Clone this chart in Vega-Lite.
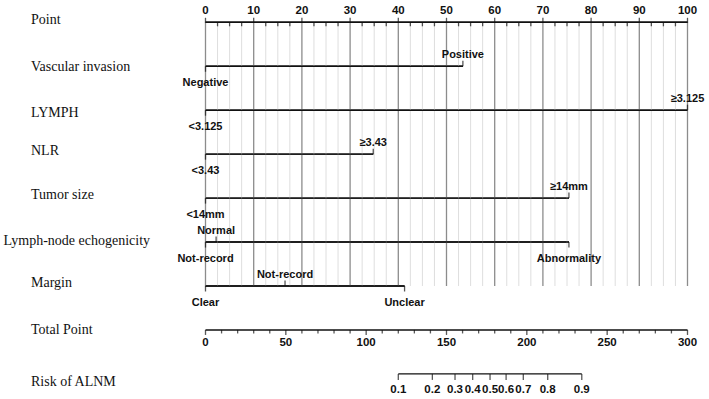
{
  "$schema": "https://vega.github.io/schema/vega-lite/v6.json",
  "width": 482,
  "height": 351.6,
  "autosize": {"type": "none"},
  "padding": {"left": 205.5, "top": 22.3, "right": 21.5, "bottom": 25.1},
  "background": "white",
  "config": {
    "view": {"stroke": null},
    "text": {"font": "Liberation Sans", "fontWeight": "bold", "fontSize": 11, "color": "#111111"},
    "tick": {"color": "#111111", "thickness": 1.3},
    "rule": {"color": "#111111", "strokeWidth": 1.4},
    "axisY": {
      "title": null,
      "domain": false,
      "ticks": false,
      "tickSize": 0,
      "labelAlign": "left",
      "labelBaseline": "middle",
      "labelFont": "Liberation Serif",
      "labelFontSize": 14,
      "labelFontWeight": "normal",
      "labelColor": "#111111",
      "labelLimit": 300,
      "labelOverlap": false
    }
  },
  "datasets": {
    "pointGrid": [
      {"pts": 0}, {"pts": 2.5}, {"pts": 5}, {"pts": 7.5}, {"pts": 10}, {"pts": 12.5}, {"pts": 15}, {"pts": 17.5},
      {"pts": 20}, {"pts": 22.5}, {"pts": 25}, {"pts": 27.5}, {"pts": 30}, {"pts": 32.5}, {"pts": 35}, {"pts": 37.5},
      {"pts": 40}, {"pts": 42.5}, {"pts": 45}, {"pts": 47.5}, {"pts": 50}, {"pts": 52.5}, {"pts": 55}, {"pts": 57.5},
      {"pts": 60}, {"pts": 62.5}, {"pts": 65}, {"pts": 67.5}, {"pts": 70}, {"pts": 72.5}, {"pts": 75}, {"pts": 77.5},
      {"pts": 80}, {"pts": 82.5}, {"pts": 85}, {"pts": 87.5}, {"pts": 90}, {"pts": 92.5}, {"pts": 95}, {"pts": 97.5},
      {"pts": 100}
    ],
    "segments": [
      {"row": "Point", "lo": 0, "hi": 100},
      {"row": "Vascular invasion", "lo": 0, "hi": 53.4},
      {"row": "LYMPH", "lo": 0, "hi": 100},
      {"row": "NLR", "lo": 0, "hi": 34.8},
      {"row": "Tumor size", "lo": 0, "hi": 75.4},
      {"row": "Lymph-node echogenicity", "lo": 0, "hi": 75.4},
      {"row": "Margin", "lo": 0, "hi": 41.3}
    ],
    "levels": [
      {"row": "Vascular invasion", "label": "Negative", "pts": 0, "side": "below"},
      {"row": "Vascular invasion", "label": "Positive", "pts": 53.4, "side": "above"},
      {"row": "LYMPH", "label": "<3.125", "pts": 0, "side": "below"},
      {"row": "LYMPH", "label": "≥3.125", "pts": 100, "side": "above"},
      {"row": "NLR", "label": "<3.43", "pts": 0, "side": "below"},
      {"row": "NLR", "label": "≥3.43", "pts": 34.8, "side": "above"},
      {"row": "Tumor size", "label": "<14mm", "pts": 0, "side": "below"},
      {"row": "Tumor size", "label": "≥14mm", "pts": 75.4, "side": "above"},
      {"row": "Lymph-node echogenicity", "label": "Not-record", "pts": 0, "side": "below"},
      {"row": "Lymph-node echogenicity", "label": "Normal", "pts": 2.2, "side": "above"},
      {"row": "Lymph-node echogenicity", "label": "Abnormality", "pts": 75.4, "side": "below"},
      {"row": "Margin", "label": "Clear", "pts": 0, "side": "below"},
      {"row": "Margin", "label": "Not-record", "pts": 16.5, "side": "above"},
      {"row": "Margin", "label": "Unclear", "pts": 41.3, "side": "below"}
    ],
    "totalTicks": [
      {"tp": 0}, {"tp": 10}, {"tp": 20}, {"tp": 30}, {"tp": 40}, {"tp": 50}, {"tp": 60}, {"tp": 70},
      {"tp": 80}, {"tp": 90}, {"tp": 100}, {"tp": 110}, {"tp": 120}, {"tp": 130}, {"tp": 140}, {"tp": 150},
      {"tp": 160}, {"tp": 170}, {"tp": 180}, {"tp": 190}, {"tp": 200}, {"tp": 210}, {"tp": 220}, {"tp": 230},
      {"tp": 240}, {"tp": 250}, {"tp": 260}, {"tp": 270}, {"tp": 280}, {"tp": 290}, {"tp": 300}
    ],
    "totalSegments": [
      {"row": "Total Point", "lo": 0, "hi": 300},
      {"row": "Risk of ALNM", "lo": 120.0, "hi": 234.2}
    ],
    "risk": [
      {"risk": 0.1, "tp": 120.0},
      {"risk": 0.2, "tp": 141.2},
      {"risk": 0.3, "tp": 155.3},
      {"risk": 0.4, "tp": 166.3},
      {"risk": 0.5, "tp": 177.1},
      {"risk": 0.6, "tp": 187.1},
      {"risk": 0.7, "tp": 197.8},
      {"risk": 0.8, "tp": 213.0},
      {"risk": 0.9, "tp": 234.2}
    ]
  },
  "layer": [
    {
      "layer": [
        {
          "data": {"name": "segments"},
          "mark": {"type": "rule"},
          "encoding": {
            "x": {"field": "lo", "type": "quantitative", "scale": {"domain": [0, 100], "nice": false, "zero": false}, "axis": null},
            "x2": {"field": "hi"},
            "y": {
              "field": "row",
              "type": "nominal",
              "scale": {
                "type": "point",
                "padding": 0,
                "domain": ["Point", "Vascular invasion", "LYMPH", "NLR", "Tumor size", "Lymph-node echogenicity", "Margin", "Total Point", "Risk of ALNM"]
              },
              "axis": {
                "title": null,
                "orient": "left",
                "labelPadding": 175,
                "labelExpr": "datum.value === 'Lymph-node echogenicity' ? '' : datum.label",
                "labelOffset": {
                  "condition": [
                    {"test": "datum.value === 'Point'", "value": -2.5},
                    {"test": "datum.value === 'LYMPH'", "value": 2.5},
                    {"test": "datum.value === 'NLR' || datum.value === 'Tumor size' || datum.value === 'Margin'", "value": -4},
                    {"test": "datum.value === 'Risk of ALNM'", "value": 7.5}
                  ],
                  "value": 0
                }
              }
            }
          }
        },
        {
          "data": {"name": "pointGrid"},
          "transform": [{"filter": "datum.pts % 10 !== 0"}],
          "mark": {"type": "rule", "color": "#dedede", "strokeWidth": 1},
          "encoding": {
            "x": {"field": "pts", "type": "quantitative", "axis": null},
            "y": {"datum": "Point", "type": "nominal"},
            "y2": {"datum": "Margin"}
          }
        },
        {
          "data": {"name": "pointGrid"},
          "transform": [{"filter": "datum.pts % 10 === 0"}],
          "mark": {"type": "rule", "color": "#8c8c8c", "strokeWidth": 1.3},
          "encoding": {
            "x": {"field": "pts", "type": "quantitative", "axis": null},
            "y": {"datum": "Point", "type": "nominal"},
            "y2": {"datum": "Margin"}
          }
        },
        {
          "data": {"name": "segments"},
          "mark": {"type": "rule"},
          "encoding": {
            "x": {"field": "lo", "type": "quantitative", "axis": null},
            "x2": {"field": "hi"},
            "y": {"field": "row", "type": "nominal"}
          }
        },
        {
          "data": {"name": "pointGrid"},
          "transform": [{"filter": "datum.pts % 10 === 0"}],
          "mark": {"type": "tick", "orient": "vertical", "size": 5, "yOffset": -2},
          "encoding": {
            "x": {"field": "pts", "type": "quantitative", "axis": null},
            "y": {"datum": "Point", "type": "nominal"}
          }
        },
        {
          "data": {"name": "pointGrid"},
          "transform": [{"filter": "datum.pts % 10 !== 0"}],
          "mark": {"type": "tick", "orient": "vertical", "size": 4, "yOffset": 2},
          "encoding": {
            "x": {"field": "pts", "type": "quantitative", "axis": null},
            "y": {"datum": "Point", "type": "nominal"}
          }
        },
        {
          "data": {"name": "pointGrid"},
          "transform": [{"filter": "datum.pts % 10 === 0"}],
          "mark": {"type": "text", "baseline": "alphabetic", "align": "center", "dy": -8.5, "fontSize": 11.5},
          "encoding": {
            "x": {"field": "pts", "type": "quantitative", "axis": null},
            "y": {"datum": "Point", "type": "nominal"},
            "text": {"field": "pts", "type": "quantitative", "format": "d"}
          }
        },
        {
          "data": {"name": "levels"},
          "transform": [{"filter": "datum.side === 'above'"}],
          "mark": {"type": "tick", "orient": "vertical", "size": 5.5, "yOffset": -2.75},
          "encoding": {
            "x": {"field": "pts", "type": "quantitative", "axis": null},
            "y": {"field": "row", "type": "nominal"}
          }
        },
        {
          "data": {"name": "levels"},
          "transform": [{"filter": "datum.side === 'below'"}],
          "mark": {"type": "tick", "orient": "vertical", "size": 5.5, "yOffset": 2.75},
          "encoding": {
            "x": {"field": "pts", "type": "quantitative", "axis": null},
            "y": {"field": "row", "type": "nominal"}
          }
        },
        {
          "data": {"name": "levels"},
          "transform": [{"filter": "datum.side === 'above'"}],
          "mark": {"type": "text", "baseline": "alphabetic", "align": "center", "dy": -8.5},
          "encoding": {
            "x": {"field": "pts", "type": "quantitative", "axis": null},
            "y": {"field": "row", "type": "nominal"},
            "text": {"field": "label", "type": "nominal"}
          }
        },
        {
          "data": {"name": "levels"},
          "transform": [{"filter": "datum.side === 'below'"}],
          "mark": {"type": "text", "baseline": "alphabetic", "align": "center", "dy": 19.5},
          "encoding": {
            "x": {"field": "pts", "type": "quantitative", "axis": null},
            "y": {"field": "row", "type": "nominal"},
            "text": {"field": "label", "type": "nominal"}
          }
        }
      ]
    },
    {
      "layer": [
        {
          "data": {"name": "totalSegments"},
          "mark": {"type": "rule"},
          "encoding": {
            "x": {"field": "lo", "type": "quantitative", "scale": {"domain": [0, 300], "nice": false, "zero": false}, "axis": null},
            "x2": {"field": "hi"},
            "y": {
              "field": "row",
              "type": "nominal",
              "axis": {
                "title": null,
                "orient": "left",
                "labelPadding": 202.5,
                "labelOffset": -2,
                "labelExpr": "datum.value === 'Lymph-node echogenicity' ? datum.label : ''"
              }
            }
          }
        },
        {
          "data": {"name": "totalTicks"},
          "transform": [{"filter": "datum.tp % 50 === 0"}],
          "mark": {"type": "tick", "orient": "vertical", "size": 5, "yOffset": 2.5},
          "encoding": {
            "x": {"field": "tp", "type": "quantitative", "axis": null},
            "y": {"datum": "Total Point", "type": "nominal"}
          }
        },
        {
          "data": {"name": "totalTicks"},
          "transform": [{"filter": "datum.tp % 50 !== 0"}],
          "mark": {"type": "tick", "orient": "vertical", "size": 3.5, "yOffset": 1.75},
          "encoding": {
            "x": {"field": "tp", "type": "quantitative", "axis": null},
            "y": {"datum": "Total Point", "type": "nominal"}
          }
        },
        {
          "data": {"name": "totalTicks"},
          "transform": [{"filter": "datum.tp % 50 === 0"}],
          "mark": {"type": "text", "baseline": "alphabetic", "align": "center", "dy": 16.5, "fontSize": 11.5},
          "encoding": {
            "x": {"field": "tp", "type": "quantitative", "axis": null},
            "y": {"datum": "Total Point", "type": "nominal"},
            "text": {"field": "tp", "type": "quantitative", "format": "d"}
          }
        },
        {
          "data": {"name": "risk"},
          "mark": {"type": "tick", "orient": "vertical", "size": 6, "yOffset": 3},
          "encoding": {
            "x": {"field": "tp", "type": "quantitative", "axis": null},
            "y": {"datum": "Risk of ALNM", "type": "nominal"}
          }
        },
        {
          "data": {"name": "risk"},
          "mark": {"type": "text", "baseline": "alphabetic", "align": "center", "dy": 19.5, "fontSize": 11.5},
          "encoding": {
            "x": {"field": "tp", "type": "quantitative", "axis": null},
            "y": {"datum": "Risk of ALNM", "type": "nominal"},
            "text": {"field": "risk", "type": "quantitative", "format": ".1f"}
          }
        }
      ]
    }
  ],
  "resolve": {"scale": {"x": "independent"}, "axis": {"y": "independent"}}
}
